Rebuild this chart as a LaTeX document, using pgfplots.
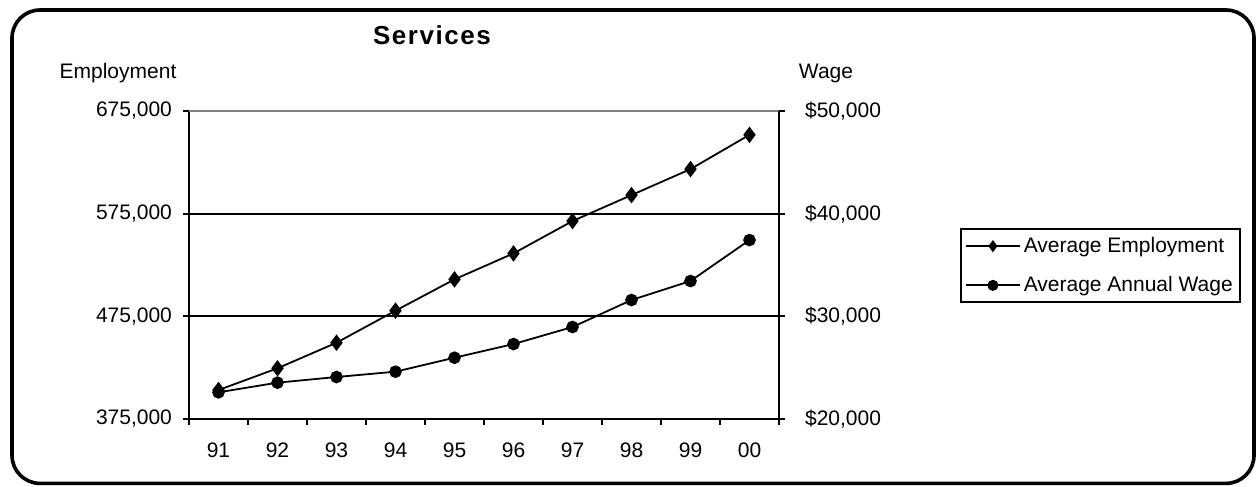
\documentclass[border=0pt]{standalone}
\usepackage{fontspec}
\setmainfont{Liberation Sans}
\usepackage{pgfplots}
\pgfplotsset{compat=1.18}

% Services: average employment (left axis) and average annual wage (right axis)
\pgfplotstableread{
x emp
1 403200
2 424400
3 449300
4 480500
5 511000
6 536300
7 567800
8 593100
9 618400
10 651800
}\emptable
\pgfplotstableread{
x wage
1 22600
2 23540
3 24090
4 24610
5 25970
6 27300
7 28960
8 31590
9 33440
10 37430
}\wagetable

\pgfplotsset{
  base/.style={
    at={(94.5pt,34pt)}, anchor=origin,
    scale only axis, width=295pt, height=154pt,
    xmin=0.5, xmax=10.5,
    axis line style={-, line width=1pt, black},
    tick align=outside,
    tick style={black, line width=1pt},
    major tick length=3pt,
    minor tick length=3pt,
    scaled ticks=false,
    tick label style={font=\fontsize{10.5}{12}\selectfont},
    clip=false,
  },
  empstyle/.style={black, line width=0.9pt, mark=diamond*, mark size=3.4pt,
    mark options={solid, fill=black}},
  wagestyle/.style={black, line width=0.9pt, mark=*, mark size=2.7pt,
    mark options={solid, fill=black}},
}

\begin{document}
\begin{tikzpicture}
\useasboundingbox (0,0) rectangle (629pt,243.5pt);
\draw[line width=1.8pt, rounded corners=14pt] (6pt,1.8pt) rectangle (627pt,238.5pt);

\node[font=\fontsize{13}{15}\selectfont\bfseries\addfontfeature{LetterSpace=6}] at (216pt,226pt) {Services};
\node[font=\fontsize{10.5}{12}\selectfont, anchor=base] at (59pt,204pt) {Employment};
\node[font=\fontsize{10.5}{12}\selectfont, anchor=base] at (413pt,204pt) {Wage};

\begin{axis}[base,
    axis x line*=bottom, axis y line*=left,
    ymin=375000, ymax=675000,
    ytick={375000,475000,575000,675000},
    yticklabels={{375,000},{475,000},{575,000},{675,000}},
    ymajorgrids, grid style={black, line width=1pt},
    xtick={1,...,10},
    xticklabels={91,92,93,94,95,96,97,98,99,00},
    minor xtick={0.5,1.5,...,10.5},
    major x tick style={draw=none},
    xticklabel style={yshift=-5.5pt},
    yticklabel style={xshift=-2pt},
    legend style={at={(1.3068,0.62)}, anchor=north west,
      draw=black, line width=1pt, inner xsep=2pt, inner ysep=2.5pt,
      row sep=7.5pt, font=\fontsize{10.5}{12}\selectfont,
      nodes={inner sep=1.5pt}},
    legend cell align=left,
    legend image code/.code={
      \draw[#1, mark size=2.3pt, mark repeat=2, mark phase=2] plot coordinates {(0pt,0pt) (13.5pt,0pt) (27pt,0pt)};
    },
]
\draw[gray, line width=1pt] (rel axis cs:0,1) -- (rel axis cs:1,1);
\addplot[empstyle] table[x=x, y=emp] {\emptable};
\addlegendentry{Average Employment}
\addlegendimage{wagestyle}
\addlegendentry{Average Annual Wage}
\end{axis}

\begin{axis}[base,
    axis x line=none, axis y line*=right,
    ymin=20000, ymax=50000,
    ytick={20000,30000,40000,50000},
    yticklabels={{\$20,000},{\$30,000},{\$40,000},{\$50,000}},
    yticklabel style={xshift=6.5pt},
]
\addplot[wagestyle] table[x=x, y=wage] {\wagetable};
\end{axis}
\end{tikzpicture}
\end{document}
